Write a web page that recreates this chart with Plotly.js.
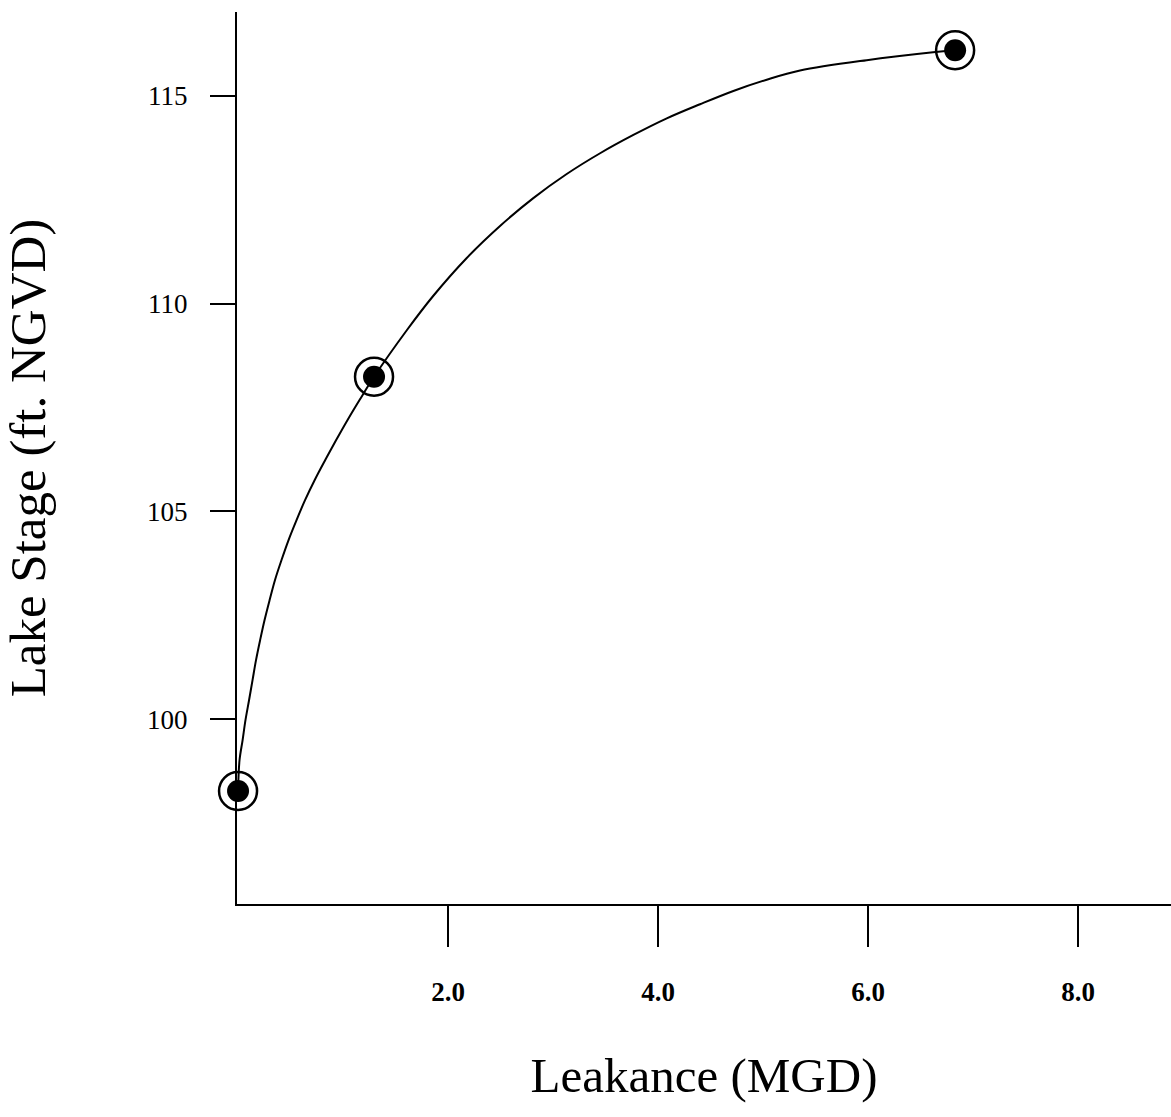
<!DOCTYPE html>
<html>
<head>
<meta charset="utf-8">
<script src="https://cdn.plot.ly/plotly-3.0.1.min.js"></script>
<style>html,body{margin:0;padding:0;background:#fff;}#chart{width:1171px;height:1117px;}</style>
</head>
<body>
<div id="chart"></div>
<script>
// Fitted curve (Leakance MGD vs Lake Stage ft NGVD)
const curveLeakance = [0, 0.014, 0.043, 0.071, 0.105, 0.138, 0.171, 0.21, 0.252, 0.3, 0.352, 0.414, 0.481, 0.557, 0.638, 0.729, 0.829, 0.933, 1.043, 1.157, 1.295, 1.607, 1.86, 2.178, 2.495, 2.812, 3.13, 3.448, 3.765, 4.083, 4.4, 4.717, 5.035, 5.352, 5.987, 6.619, 6.829];
const curveStage    = [98.27, 99.01, 99.49, 99.98, 100.46, 100.94, 101.42, 101.9, 102.38, 102.86, 103.35, 103.83, 104.31, 104.79, 105.27, 105.75, 106.23, 106.71, 107.2, 107.68, 108.24, 109.36, 110.19, 111.1, 111.87, 112.54, 113.12, 113.62, 114.06, 114.46, 114.8, 115.12, 115.39, 115.61, 115.86, 116.05, 116.1];
// Computed points
const pointLeakance = [0, 1.295, 6.829];
const pointStage    = [98.27, 108.24, 116.1];
// Ticks
const xTickVals = [2, 4, 6, 8];
const xTickText = ["2.0", "4.0", "6.0", "8.0"];
const yTickVals = [100, 105, 110, 115];
const yTickText = ["100", "105", "110", "115"];

const serif = "'Liberation Serif', 'Times New Roman', serif";

const traces = [
  {
    x: curveLeakance, y: curveStage, type: 'scatter', mode: 'lines',
    line: {color: '#000', width: 2, shape: 'spline', smoothing: 1},
    cliponaxis: false, hoverinfo: 'skip', showlegend: false
  },
  {
    x: pointLeakance, y: pointStage, type: 'scatter', mode: 'markers',
    marker: {symbol: 'circle-open', size: 38, color: '#000', line: {color: '#000', width: 2.5}},
    cliponaxis: false, showlegend: false
  },
  {
    x: pointLeakance, y: pointStage, type: 'scatter', mode: 'markers',
    marker: {symbol: 'circle', size: 22, color: '#000'},
    cliponaxis: false, showlegend: false
  }
];

const layout = {
  width: 1171, height: 1117,
  margin: {l: 237, r: 0, t: 12, b: 213, pad: 0},
  paper_bgcolor: '#fff', plot_bgcolor: '#fff',
  showlegend: false,
  xaxis: {
    range: [-0.01, 8.885],
    showgrid: false, zeroline: false,
    showline: true, linecolor: '#000', linewidth: 2,
    ticks: 'outside', ticklen: 41, tickwidth: 2, tickcolor: '#000',
    tickvals: xTickVals, ticktext: xTickText,
    ticklabelstandoff: 22,
    tickfont: {family: serif, size: 27, color: '#000', weight: 'bold'},
    title: {text: 'Leakance (MGD)', font: {family: serif, size: 49, color: '#000'}, standoff: 51},
    automargin: false
  },
  yaxis: {
    range: [95.55, 117.02],
    showgrid: false, zeroline: false,
    showline: true, linecolor: '#000', linewidth: 2,
    ticks: 'outside', ticklen: 25, tickwidth: 2, tickcolor: '#000',
    tickvals: yTickVals, ticktext: yTickText,
    ticklabelstandoff: 17,
    tickfont: {family: serif, size: 27, color: '#000'},
    title: {text: 'Lake Stage (ft. NGVD)', font: {family: serif, size: 51, color: '#000'}, standoff: 85},
    automargin: false
  }
};

Plotly.newPlot('chart', traces, layout, {staticPlot: true, displayModeBar: false});
</script>
</body>
</html>
